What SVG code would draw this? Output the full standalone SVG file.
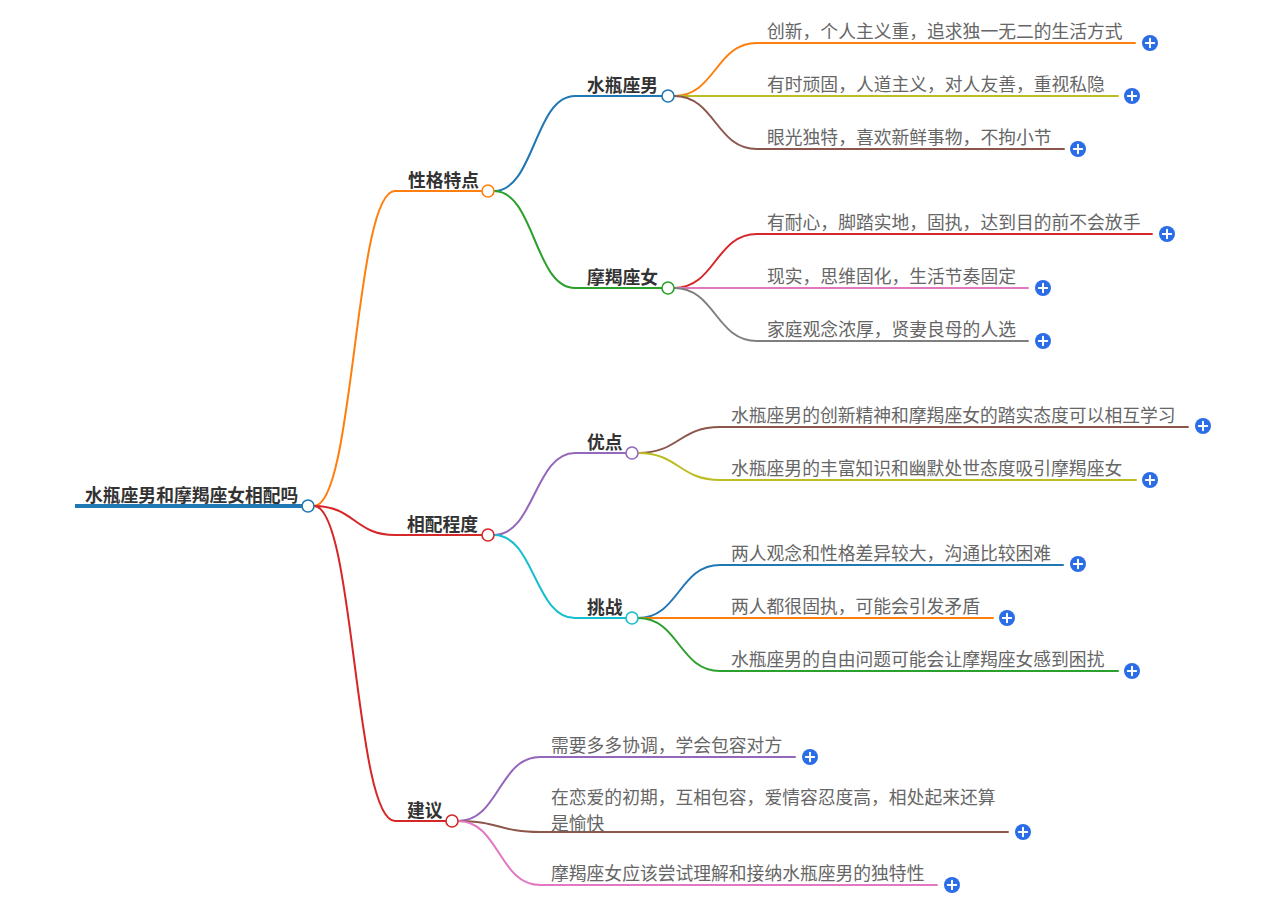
<svg xmlns="http://www.w3.org/2000/svg" width="1268" height="905" viewBox="0 0 1268 905">
<style>
.bg{fill:#ffffff}
.ln{fill:none;stroke-width:2;stroke-linecap:round}
.nd{font-family:"Noto Sans CJK SC","Noto Sans",sans-serif;font-size:17.8px;font-weight:bold;fill:#333333}
.lf{font-family:"Noto Sans CJK SC","Noto Sans",sans-serif;font-size:17.8px;fill:#666666}
.dot{fill:#ffffff;stroke-width:1.6}
</style>
<defs>
<g id="plus">
<circle cx="0" cy="0" r="8" fill="#2b6de6"/>
<path d="M-4.2,0H4.2M0,-4.2V4.2" stroke="#ffffff" stroke-width="2" stroke-linecap="round"/>
</g>
</defs>
<rect class="bg" x="0" y="0" width="1268" height="905"/>
<g id="connectors">
<line x1="75" y1="506" x2="302" y2="506" stroke="#1f77b4" stroke-width="4"/>
<path class="ln" stroke="#ff7f0e" d="M314,506 C354.5,506 354.5,191 395,191 H482"/>
<path class="ln" stroke="#d62728" d="M314,506 C354.5,506 354.5,535 395,535 H482"/>
<path class="ln" stroke="#d62728" d="M314,506 C354.5,506 354.5,821 395,821 H446"/>
<path class="ln" stroke="#1f77b4" d="M494,191 C534.5,191 534.5,96 575,96 H662"/>
<path class="ln" stroke="#2ca02c" d="M494,191 C534.5,191 534.5,288 575,288 H662"/>
<path class="ln" stroke="#9467bd" d="M494,535 C534.5,535 534.5,453 575,453 H626"/>
<path class="ln" stroke="#17becf" d="M494,535 C534.5,535 534.5,618 575,618 H626"/>
<path class="ln" stroke="#ff7f0e" d="M674,96 C715.5,96 715.5,43 757,43 H1135"/>
<path class="ln" stroke="#bcbd22" d="M674,96 H1118"/>
<path class="ln" stroke="#8c564b" d="M674,96 C715.5,96 715.5,149 757,149 H1064"/>
<path class="ln" stroke="#d62728" d="M674,288 C715.5,288 715.5,234 757,234 H1152"/>
<path class="ln" stroke="#e377c2" d="M674,288 H1028"/>
<path class="ln" stroke="#7f7f7f" d="M674,288 C715.5,288 715.5,341 757,341 H1028"/>
<path class="ln" stroke="#8c564b" d="M638,453 C679,453 679,427 720,427 H1188"/>
<path class="ln" stroke="#bcbd22" d="M638,453 C679,453 679,480 720,480 H1136"/>
<path class="ln" stroke="#1f77b4" d="M638,618 C679,618 679,565 720,565 H1063"/>
<path class="ln" stroke="#ff7f0e" d="M638,618 H993"/>
<path class="ln" stroke="#2ca02c" d="M638,618 C679,618 679,671 720,671 H1118"/>
<path class="ln" stroke="#9467bd" d="M458,821 C499,821 499,757 540,757 H795"/>
<path class="ln" stroke="#8c564b" d="M458,821 C499,821 499,832 540,832 H1008"/>
<path class="ln" stroke="#e377c2" d="M458,821 C499,821 499,885 540,885 H937"/>
</g>
<g id="root">
<text class="nd" x="85" y="502">水瓶座男和摩羯座女相配吗</text>
<circle class="dot" cx="308" cy="506" r="6" stroke="#1f77b4"/>
</g>
<g id="n-xgtd">
<text class="nd" x="408" y="187">性格特点</text>
<circle class="dot" cx="488" cy="191" r="6" stroke="#ff7f0e"/>
</g>
<g id="n-xpcd">
<text class="nd" x="407" y="531">相配程度</text>
<circle class="dot" cx="488" cy="535" r="6" stroke="#d62728"/>
</g>
<g id="n-jy">
<text class="nd" x="407" y="817">建议</text>
<circle class="dot" cx="452" cy="821" r="6" stroke="#d62728"/>
</g>
<g id="n-spzn">
<text class="nd" x="587" y="92">水瓶座男</text>
<circle class="dot" cx="668" cy="96" r="6" stroke="#1f77b4"/>
</g>
<g id="n-mjzv">
<text class="nd" x="587" y="284">摩羯座女</text>
<circle class="dot" cx="668" cy="288" r="6" stroke="#2ca02c"/>
</g>
<g id="n-yd">
<text class="nd" x="587" y="449">优点</text>
<circle class="dot" cx="632" cy="453" r="6" stroke="#9467bd"/>
</g>
<g id="n-tz">
<text class="nd" x="587" y="614">挑战</text>
<circle class="dot" cx="632" cy="618" r="6" stroke="#17becf"/>
</g>
<g id="l1"><text class="lf" x="767" y="38">创新，个人主义重，追求独一无二的生活方式</text><use href="#plus" x="1150" y="43"/></g>
<g id="l2"><text class="lf" x="767" y="91">有时顽固，人道主义，对人友善，重视私隐</text><use href="#plus" x="1132" y="96"/></g>
<g id="l3"><text class="lf" x="767" y="144">眼光独特，喜欢新鲜事物，不拘小节</text><use href="#plus" x="1078" y="149"/></g>
<g id="l4"><text class="lf" x="767" y="229">有耐心，脚踏实地，固执，达到目的前不会放手</text><use href="#plus" x="1167" y="234"/></g>
<g id="l5"><text class="lf" x="767" y="283">现实，思维固化，生活节奏固定</text><use href="#plus" x="1043" y="288"/></g>
<g id="l6"><text class="lf" x="767" y="336">家庭观念浓厚，贤妻良母的人选</text><use href="#plus" x="1043" y="341"/></g>
<g id="l7"><text class="lf" x="731" y="422">水瓶座男的创新精神和摩羯座女的踏实态度可以相互学习</text><use href="#plus" x="1203" y="426"/></g>
<g id="l8"><text class="lf" x="731" y="475">水瓶座男的丰富知识和幽默处世态度吸引摩羯座女</text><use href="#plus" x="1150" y="480"/></g>
<g id="l9"><text class="lf" x="731" y="560">两人观念和性格差异较大，沟通比较困难</text><use href="#plus" x="1078" y="564"/></g>
<g id="l10"><text class="lf" x="731" y="613">两人都很固执，可能会引发矛盾</text><use href="#plus" x="1007" y="618"/></g>
<g id="l11"><text class="lf" x="731" y="666">水瓶座男的自由问题可能会让摩羯座女感到困扰</text><use href="#plus" x="1132" y="671"/></g>
<g id="l12"><text class="lf" x="551" y="752">需要多多协调，学会包容对方</text><use href="#plus" x="810" y="757"/></g>
<g id="l13"><text class="lf" x="551" y="804">在恋爱的初期，互相包容，爱情容忍度高，相处起来还算<tspan x="551" y="830">是愉快</tspan></text><use href="#plus" x="1023" y="832"/></g>
<g id="l14"><text class="lf" x="551" y="880">摩羯座女应该尝试理解和接纳水瓶座男的独特性</text><use href="#plus" x="952" y="885"/></g>
</svg>
